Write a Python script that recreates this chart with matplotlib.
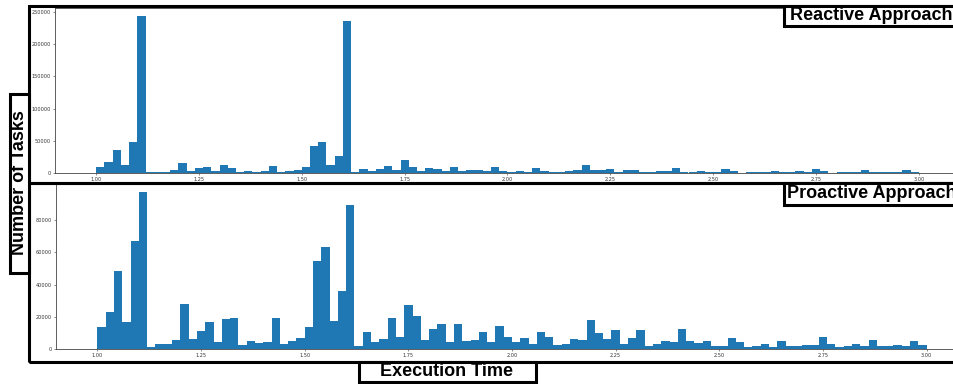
import numpy as np
import matplotlib
matplotlib.use("Agg")
import matplotlib.pyplot as plt
from matplotlib.patches import Rectangle

# histogram counts per 0.02 s bin, 1.00 .. 3.00 (100 bins)
bin_lo = 1.0
bin_hi = 3.0
n_bins = 100

reactive = [
    9200, 16300, 35800, 12500, 47600, 245000, 500, 1200, 1600, 3800,
    15300, 2400, 6800, 8700, 3100, 11500, 6800, 500, 2100, 1600,
    2600, 10200, 500, 2300, 3800, 9000, 41700, 47400, 11500, 25800,
    236000, 500, 5200, 2100, 5000, 11200, 4700, 19300, 9400, 2600,
    7000, 6500, 2000, 9100, 2000, 3600, 4700, 2100, 9400, 2100,
    1600, 2100, 1000, 7000, 2600, 700, 1000, 2300, 3600, 11500,
    4100, 3600, 6500, 500, 4400, 4700, 1000, 1500, 2300, 2800,
    8000, 1600, 1500, 2100, 500, 600, 5000, 2000, 200, 500,
    1500, 500, 3100, 500, 500, 2100, 500, 5200, 2100, 200,
    500, 500, 800, 3600, 500, 500, 800, 500, 3800, 500,
]

proactive = [
    13500, 23200, 48700, 16500, 67000, 97700, 1450, 2900, 3300, 5400,
    27900, 6000, 11400, 16800, 4550, 18400, 19250, 2300, 5000, 3500,
    4100, 19000, 3100, 4750, 6800, 13600, 54500, 63500, 17300, 36100,
    89500, 2100, 10300, 4600, 6500, 19300, 7700, 27600, 20700, 5800,
    12700, 15600, 4100, 15400, 4700, 5900, 10700, 4350, 14000, 7450,
    4140, 7040, 3100, 10350, 7450, 2280, 3300, 6200, 5400, 18000,
    9900, 6000, 11800, 3100, 7040, 11600, 1860, 3100, 4760, 4350,
    12200, 4760, 3500, 4760, 2070, 1660, 6830, 4350, 1040, 2070,
    3100, 1450, 4760, 2070, 2070, 2700, 2700, 7450, 3300, 1040,
    1660, 2900, 1660, 5800, 2070, 2070, 2700, 1660, 4970, 2700,
]

top_yticks = [0, 50000, 100000, 150000, 200000, 250000]
bot_yticks = [0, 20000, 40000, 60000, 80000]
xticks = [1.00, 1.25, 1.50, 1.75, 2.00, 2.25, 2.50, 2.75, 3.00]

W, H = 954, 384
edges = np.linspace(bin_lo, bin_hi, n_bins + 1)
centers = (edges[:-1] + edges[1:]) / 2


def px_rect(x0, y0, x1, y1):
    # pixel box (top-left origin) -> figure fraction
    return [x0 / W, 1 - y1 / H, (x1 - x0) / W, (y1 - y0) / H]


def style_axes(ax, yticks):
    ax.set_xticks(xticks)
    ax.set_yticks(yticks)
    ax.tick_params(labelsize=3.6, length=1.5, width=0.4, colors="#333333", pad=1.5)
    for s in ax.spines.values():
        s.set_linewidth(0.6)
        s.set_color("#444444")


fig = plt.figure(figsize=(W / 100, H / 100), dpi=100)

ax1 = fig.add_axes(px_rect(55, 7.7, 960, 172.7))
ax1.hist(centers, bins=edges, weights=reactive, color="#1f77b4")
style_axes(ax1, top_yticks)

ax2 = fig.add_axes(px_rect(56, 184, 968, 349))
ax2.hist(centers, bins=edges, weights=proactive, color="#1f77b4")
style_axes(ax2, bot_yticks)


def frame(x0, y0, x1, y1, fill=False):
    r = Rectangle((x0 / W, 1 - y1 / H), (x1 - x0) / W, (y1 - y0) / H,
                  transform=fig.transFigure, fill=fill, facecolor="white",
                  edgecolor="black", linewidth=2.2, zorder=5)
    fig.add_artist(r)


frame(29.5, 5.5, 975, 183)
frame(29.5, 183, 975, 361.5)
frame(10.5, 93.5, 29.5, 272.5, fill=True)
frame(358.5, 361.5, 535.5, 381.5, fill=True)
frame(784.5, 5.5, 975, 26, fill=True)
frame(784.5, 183, 975, 204.5, fill=True)

lab = dict(family="Liberation Sans", fontweight="bold", fontsize=13, zorder=6)
fig.text(19.5 / W, 1 - 183 / H, "Number of Tasks", rotation=90,
         ha="center", va="center", **lab)
fig.text(447 / W, 1 - 372 / H, "Execution Time", ha="center", va="center", **lab)
fig.text(790.5 / W, 1 - 16 / H, "Reactive Approach", ha="left", va="center", **lab)
fig.text(787.5 / W, 1 - 194 / H, "Proactive Approach", ha="left", va="center", **lab)

fig.savefig("out.png", dpi=100)
